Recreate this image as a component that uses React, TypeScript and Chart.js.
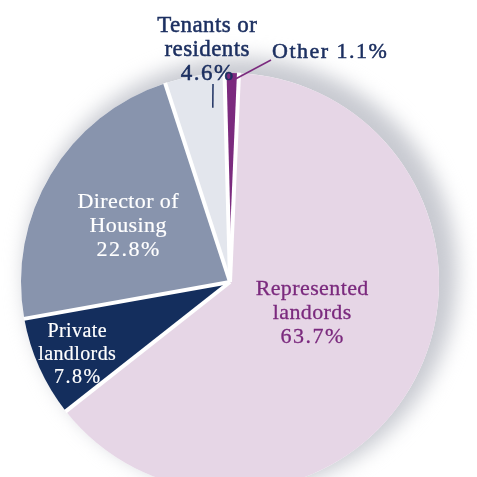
import React, { useEffect, useRef } from "react";
import { Chart, registerables } from "chart.js";

Chart.register(...registerables);

// ---- data ----
const categories = [
  "Other",
  "Represented landlords",
  "Private landlords",
  "Director of Housing",
  "Tenants or residents",
];
const shares = [1.1, 63.7, 7.8, 22.8, 4.6];
const sliceColors = ["#7b2a7e", "#e6d6e6", "#142e5d", "#8894ad", "#e3e6ed"];
const labelLines = [
  ["Other 1.1%"],
  ["Represented", "landords", "63.7%"],
  ["Private", "landlords", "7.8%"],
  ["Director of", "Housing", "22.8%"],
  ["Tenants or", "residents", "4.6%"],
];

// ---- presentation ----
const FONT = '"Liberation Serif", "Times New Roman", serif';
const labelLayout = [
  { x: 272, y: 58, align: "left", color: "#1d3061", size: 22, weight: 0.5, lh: 24 },
  { x: 312, y: 295, align: "center", color: "#7b2a7e", size: 22, weight: 0.3, lh: 24 },
  { x: 77, y: 337, align: "center", color: "#ffffff", size: 20, weight: 0.2, lh: 23 },
  { x: 128, y: 208, align: "center", color: "#ffffff", size: 22, weight: 0.2, lh: 24 },
  { x: 207, y: 32, align: "center", color: "#1d3061", size: 23, weight: 0.5, lh: 24 },
];

const shadowPlugin = {
  id: "pieShadow",
  beforeDatasetsDraw(chart: any) {
    const arc = chart.getDatasetMeta(0).data[0];
    if (!arc) return;
    const { x, y, outerRadius } = arc;
    const ctx = chart.ctx;
    ctx.save();
    ctx.beginPath();
    ctx.rect(0, 0, chart.width, chart.height);
    ctx.arc(x, y, outerRadius, 0, Math.PI * 2);
    ctx.clip("evenodd");
    ctx.filter = "blur(10px)";
    ctx.fillStyle = "#c8cad1";
    ctx.beginPath();
    ctx.arc(x + 11, y - 8, outerRadius + 7, 0, Math.PI * 2);
    ctx.fill();
    ctx.restore();
  },
};

const gapPlugin = {
  id: "sliceGaps",
  afterDatasetsDraw(chart: any) {
    const meta = chart.getDatasetMeta(0);
    const ctx = chart.ctx;
    ctx.save();
    ctx.strokeStyle = "#ffffff";
    ctx.lineWidth = 4;
    ctx.lineCap = "butt";
    meta.data.forEach((arc: any) => {
      const a = arc.startAngle;
      const r = arc.outerRadius + 0.5;
      ctx.beginPath();
      ctx.moveTo(arc.x, arc.y);
      ctx.lineTo(arc.x + Math.cos(a) * r, arc.y + Math.sin(a) * r);
      ctx.stroke();
    });
    ctx.restore();
  },
};

const labelPlugin = {
  id: "sliceLabels",
  afterDraw(chart: any) {
    const ctx = chart.ctx;
    const meta = chart.getDatasetMeta(0);
    ctx.save();
    labelLines.forEach((lines, i) => {
      const L = labelLayout[i];
      ctx.fillStyle = L.color;
      ctx.strokeStyle = L.color;
      ctx.lineWidth = L.weight;
      ctx.textAlign = L.align;
      ctx.textBaseline = "alphabetic";
      ctx.font = `${L.size}px ${FONT}`;
      lines.forEach((t, j) => {
        const sp = /%/.test(t) ? 1.5 : 0.4;
        (ctx as any).letterSpacing = `${sp}px`;
        const dx = L.align === "center" ? sp / 2 : 0;
        ctx.fillText(t, L.x + dx, L.y + j * L.lh);
        ctx.strokeText(t, L.x + dx, L.y + j * L.lh);
      });
    });
    (ctx as any).letterSpacing = "0px";

    // leader lines to the two small outer-labelled slices
    const leader = (idx: number, sx: number, sy: number, frac: number, inset: number, color: string) => {
      const arc: any = meta.data[idx];
      const a = arc.startAngle + (arc.endAngle - arc.startAngle) * frac;
      const r = arc.outerRadius - inset;
      ctx.strokeStyle = color;
      ctx.lineWidth = 1.5;
      ctx.beginPath();
      ctx.moveTo(sx, sy);
      ctx.lineTo(arc.x + Math.cos(a) * r, arc.y + Math.sin(a) * r);
      ctx.stroke();
    };
    leader(0, 271, 60, 0.5, 8, "#7b2a7e");
    leader(4, 213, 84, 0.75, 34, "#1d3061");
    ctx.restore();
  },
};

export default function App() {
  const ref = useRef<HTMLCanvasElement>(null);
  useEffect(() => {
    if (!ref.current) return;
    const chart = new Chart(ref.current, {
      type: "pie",
      data: {
        labels: categories,
        datasets: [
          {
            data: shares,
            backgroundColor: sliceColors,
            borderWidth: 0,
            radius: 209,
          } as any,
        ],
      },
      options: {
        responsive: false,
        animation: false,
        devicePixelRatio: 1,
        rotation: -1.5,
        events: [],
        layout: { padding: { right: 17 } },
        plugins: { legend: { display: false }, tooltip: { enabled: false } },
      } as any,
      plugins: [shadowPlugin, gapPlugin, labelPlugin],
    });
    return () => chart.destroy();
  }, []);
  return (
    <div style={{ position: "absolute", left: 0, top: 0, width: 477, height: 477, overflow: "hidden", background: "#fff" }}>
      <canvas ref={ref} width={477} height={564} style={{ display: "block" }} />
    </div>
  );
}
